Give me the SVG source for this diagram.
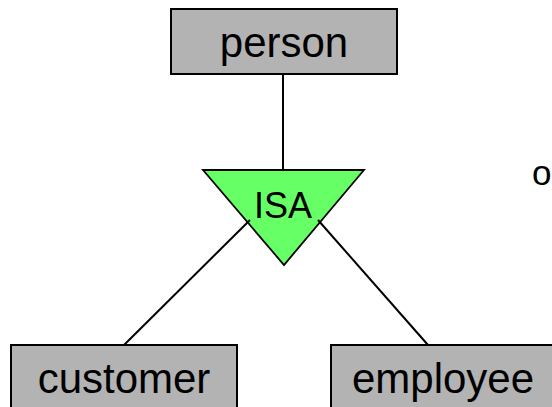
<svg xmlns="http://www.w3.org/2000/svg" width="552" height="407" viewBox="0 0 552 407">
<style>
.ent{fill:#b3b3b3;stroke:#000;stroke-width:2}
.isa{fill:#66ff66;stroke:#000;stroke-width:1.8;stroke-linejoin:miter}
.lbl{font-family:"Liberation Sans",Arial,sans-serif;fill:#000;text-anchor:middle}
.conn line{stroke:#000;stroke-width:2}
</style>
<rect width="552" height="407" fill="#fff"/>
<g id="isa">
<polygon class="isa" points="203,170 364,170 284,265"/>
<text class="lbl" x="283" y="218" font-size="36">ISA</text>
</g>
<g id="connectors" class="conn">
<line x1="283" y1="74" x2="283" y2="170"/>
<line x1="250" y1="220" x2="124" y2="345"/>
<line x1="318" y1="220" x2="428" y2="345"/>
</g>
<g id="person">
<rect class="ent" x="171" y="9" width="226" height="65"/>
<text class="lbl" x="284" y="57" font-size="42">person</text>
</g>
<g id="customer">
<rect class="ent" x="11" y="345" width="226" height="70"/>
<text class="lbl" x="124" y="393" font-size="42">customer</text>
</g>
<g id="employee">
<rect class="ent" x="331" y="345" width="240" height="70"/>
<text class="lbl" x="443" y="393" font-size="42">employee</text>
</g>
<text class="lbl" x="532" y="185" font-size="35" style="text-anchor:start">o</text>
</svg>
